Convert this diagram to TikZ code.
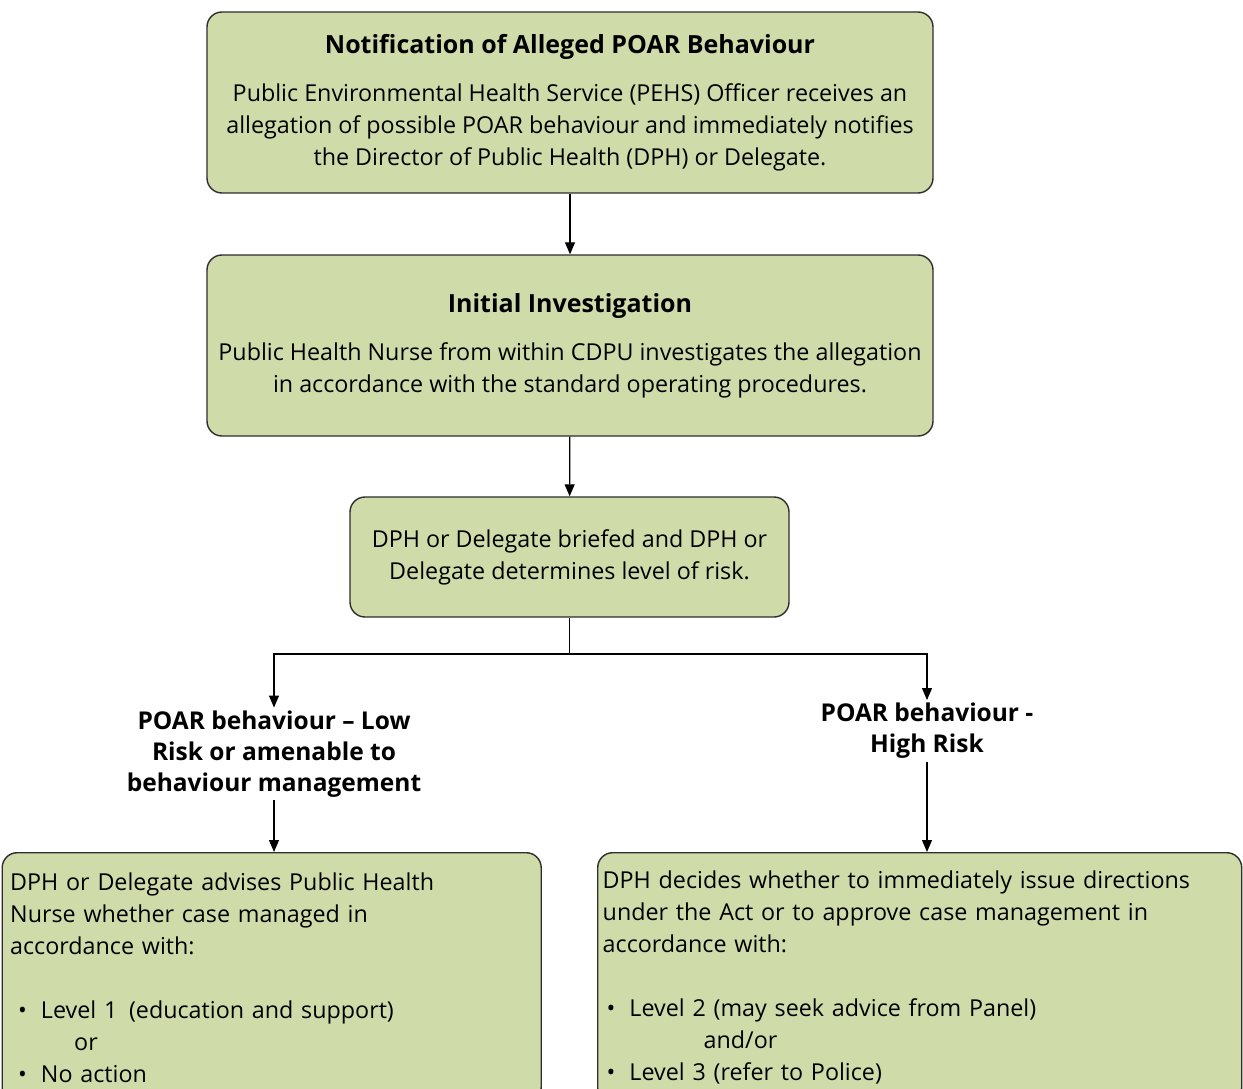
\documentclass[tikz,border=0pt]{standalone}
\usepackage{fontspec}
\setmainfont{Open Sans}
\usetikzlibrary{arrows.meta,positioning,calc}

\definecolor{boxgreen}{RGB}{207,220,169}
\definecolor{edgegray}{RGB}{45,45,45}
\newcommand{\boxtitle}[1]{{\fontsize{25}{32}\selectfont\bfseries #1}}

\begin{document}
\begin{tikzpicture}[
    x=1pt, y=-1pt,
    box/.style={draw=edgegray, line width=1.4pt, rounded corners=15pt, fill=boxgreen, align=center, inner sep=0pt},
    listbox/.style={draw=edgegray, line width=1.4pt, rounded corners=15pt, fill=boxgreen, align=left, anchor=north west},
    branch/.style={font=\fontsize{24.5}{31}\selectfont\bfseries, align=center, inner sep=3pt},
    arr/.style={-{Triangle[length=12pt,width=10pt]}, line width=1.2pt},
    link/.style={line width=1.2pt},
    every node/.style={font=\fontsize{23.3}{32}\selectfont},
]
\useasboundingbox (0,0) rectangle (1243,1089);
\clip (0,0) rectangle (1243,1089);

% Top boxes
\node[box, minimum width=726pt, minimum height=181pt] (notify) at (570,102.5)
  {\boxtitle{Notification of Alleged POAR Behaviour}\\[16pt]
   Public Environmental Health Service (PEHS) Officer receives an\\
   allegation of possible POAR behaviour and immediately notifies\\
   the Director of Public Health (DPH) or Delegate.};

\node[box, minimum width=726pt, minimum height=181pt] (invest) at (570,345.5)
  {\boxtitle{Initial Investigation}\\[16pt]
   Public Health Nurse from within CDPU investigates the allegation\\
   in accordance with the standard operating procedures.};

\node[box, minimum width=439pt, minimum height=120pt] (assess) at (569.5,557)
  {DPH or Delegate briefed and DPH or\\
   Delegate determines level of risk.};

% Branch labels
\node[branch] (lowrisk) at (274,754)
  {POAR behaviour -- Low\\ Risk or amenable to\\ behaviour management};
\node[branch] (highrisk) at (927,731)
  {POAR behaviour -\\ High Risk};

% Bottom boxes
\node[listbox, minimum width=539pt, minimum height=250pt, text width=523pt, inner sep=8pt] (lowbox) at (1.5,852)
  {DPH or Delegate advises Public Health\\
   Nurse whether case managed in\\
   accordance with:\\[32pt]
   \hspace*{8pt}\textbullet\hspace{14pt}Level 1 \,(education and support)\\
   \hspace*{64pt}or\\
   \hspace*{8pt}\textbullet\hspace{14pt}No action};
\node[listbox, minimum width=644pt, minimum height=250pt, text width=634pt, inner sep=5pt] (highbox) at (597,852)
  {DPH decides whether to immediately issue directions\\
   under the Act or to approve case management in\\
   accordance with:\\[32pt]
   \hspace*{4pt}\textbullet\hspace{14pt}Level 2 (may seek advice from Panel)\\
   \hspace*{101pt}and/or\\
   \hspace*{4pt}\textbullet\hspace{14pt}Level 3 (refer to Police)};

% Connectors
\coordinate (split) at (assess.south |- 0,654);
\draw[arr] (notify) -- (invest);
\draw[arr] (invest) -- (assess);
\draw[link] (assess) -- (split);
\draw[arr] (split) -| (lowrisk.north);
\draw[arr] (split) -| (highrisk.north);
\draw[arr] (lowrisk.south) -- (lowrisk.south |- lowbox.north);
\draw[arr] (highrisk.south) -- (highrisk.south |- highbox.north);

\end{tikzpicture}
\end{document}
